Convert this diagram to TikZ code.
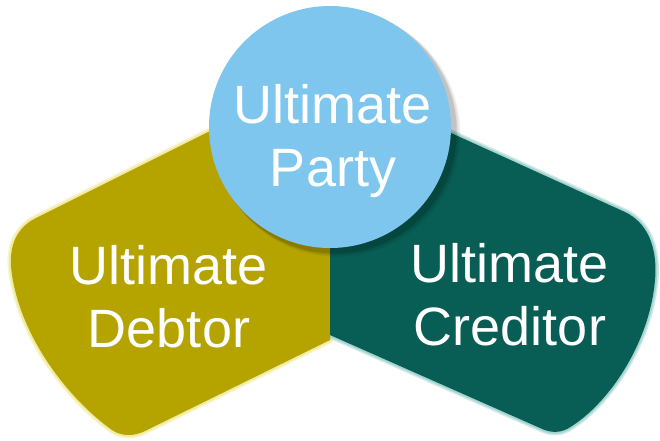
\documentclass[tikz,border=0pt]{standalone}
\usepackage{fontspec}
\setmainfont{Liberation Sans}
\definecolor{olive}{HTML}{B5A400}
\definecolor{oliveglow}{HTML}{F0EA96}
\definecolor{teal}{HTML}{085E54}
\definecolor{tealglow}{HTML}{9CD0CB}
\definecolor{skyblue}{HTML}{7FC6EE}
\tikzset{
  lbl/.style={text=white, align=center, inner sep=0pt,
    font=\fontsize{54}{63}\selectfont},
  glowA/.style={draw=#1, line width=7pt, line join=round, opacity=0.45},
  glowB/.style={draw=#1, line width=4pt, line join=round, opacity=0.8},
}
\begin{document}
\begin{tikzpicture}[x=1pt,y=-1pt]
\useasboundingbox (0,0) rectangle (660,440);
\def\leftpath{(330,71) -- (36,218) .. controls (14,229) and (8,250) .. (12,275) .. controls (22,340) and (70,400) .. (112,430) .. controls (122,437) and (135,436) .. (145,431) -- (330,340) -- cycle}
\def\rightpath{(330,78) -- (625,212) .. controls (646,222) and (658,245) .. (655,280) .. controls (650,340) and (612,400) .. (572,426) .. controls (561,434) and (550,433) .. (540,428) -- (330,335) -- cycle}
% glows
\path[glowA=oliveglow] \leftpath;
\path[glowB=oliveglow] \leftpath;
\path[glowA=tealglow] \rightpath;
\path[glowB=tealglow] \rightpath;
% fills
\fill[olive] \leftpath;
\fill[teal] \rightpath;
% circle shadow
\foreach \o/\op in {7/0.06,5/0.08,3/0.12} {
  \fill[black, opacity=\op] (333,130) ++(\o*0.6,\o*0.5) circle[radius=121+\o*0.3];
}
\node[circle, fill=skyblue, minimum size=242pt, inner sep=0pt] (party) at (330,127) {};
% labels
\node[lbl] (debtor) at (169,297) {Ultimate\\Debtor};
\node[lbl] (creditor) at (510,295) {Ultimate\\Creditor};
\node[lbl] (partytext) at (333,141) {Ultimate\\Party};
\end{tikzpicture}
\end{document}
